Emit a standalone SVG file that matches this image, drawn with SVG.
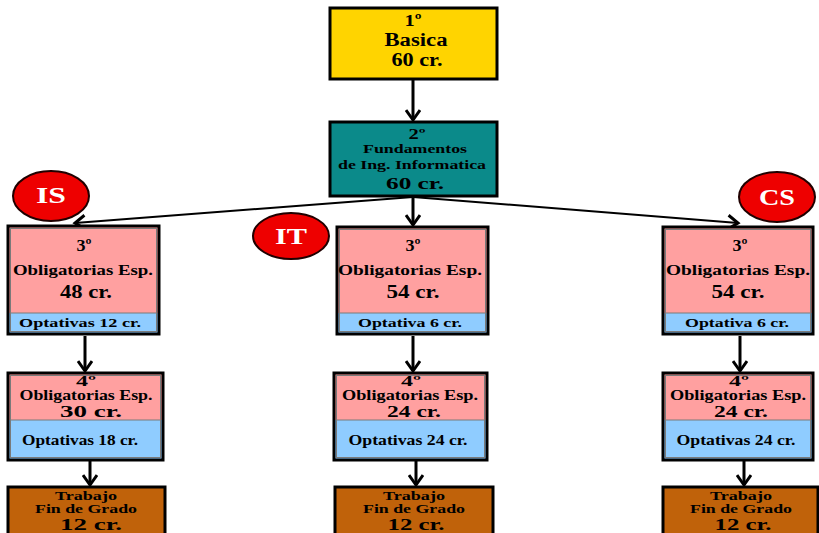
<svg xmlns="http://www.w3.org/2000/svg" width="819" height="533" viewBox="0 0 819 533">
<defs>
<style>
text{font-family:"Liberation Serif","Times New Roman",serif;font-weight:bold;fill:#000;text-anchor:middle}
.frame{fill:none;stroke:#000;stroke-width:3}
.inner{fill:none;stroke:#7a7a7a;stroke-width:1}
.pink{fill:#FFA0A0}
.blue{fill:#8FCCFF}
.brown{fill:#C0620A}
.yellow{fill:#FFD400}
.teal{fill:#0B8A8A}
.oval{fill:#EE0000;stroke:#200000;stroke-width:2}
.ovt{fill:#fff;font-size:23px}
.conn{stroke:#000;fill:none}
.v{stroke-width:3}
.d{stroke-width:2}
</style>
<marker id="ah" markerUnits="userSpaceOnUse" markerWidth="16" markerHeight="16" refX="12" refY="8" orient="auto" viewBox="0 0 16 16">
<path d="M2,1 L12,8 L2,15" fill="none" stroke="#000" stroke-width="3"/>
</marker>
</defs>
<rect width="819" height="533" fill="#fff"/>

<g id="connectors">
<line class="conn v" x1="413" y1="80" x2="413" y2="120" marker-end="url(#ah)"/>
<line class="conn v" x1="413" y1="197" x2="413" y2="225" marker-end="url(#ah)"/>
<line class="conn d" x1="413" y1="197" x2="75" y2="223" marker-end="url(#ah)"/>
<line class="conn d" x1="413" y1="197" x2="738" y2="223" marker-end="url(#ah)"/>
<line class="conn v" x1="85" y1="336" x2="85" y2="371" marker-end="url(#ah)"/>
<line class="conn v" x1="413" y1="336" x2="413" y2="371" marker-end="url(#ah)"/>
<line class="conn v" x1="740" y1="336" x2="740" y2="371" marker-end="url(#ah)"/>
<line class="conn v" x1="90" y1="461" x2="90" y2="485" marker-end="url(#ah)"/>
<line class="conn v" x1="416" y1="461" x2="416" y2="485" marker-end="url(#ah)"/>
<line class="conn v" x1="744" y1="461" x2="744" y2="485" marker-end="url(#ah)"/>
</g>

<g id="basica">
<rect class="yellow" x="330" y="8" width="167" height="71"/>
<rect class="frame" x="330" y="8" width="167" height="71"/>
<text x="413" y="26" font-size="17" textLength="17" lengthAdjust="spacingAndGlyphs">1º</text>
<text x="416" y="46" font-size="18" textLength="63" lengthAdjust="spacingAndGlyphs">Basica</text>
<text x="417" y="66" font-size="18" textLength="51" lengthAdjust="spacingAndGlyphs">60 cr.</text>
</g>

<g id="fundamentos">
<rect class="teal" x="330" y="122" width="167" height="74"/>
<rect class="frame" x="330" y="122" width="167" height="74"/>
<text x="417" y="139" font-size="15" textLength="17" lengthAdjust="spacingAndGlyphs">2º</text>
<text x="415" y="153" font-size="13.5" textLength="104" lengthAdjust="spacingAndGlyphs">Fundamentos</text>
<text x="412" y="169" font-size="13.5" textLength="148" lengthAdjust="spacingAndGlyphs">de Ing. Informatica</text>
<text x="415" y="189" font-size="17" textLength="58" lengthAdjust="spacingAndGlyphs">60 cr.</text>
</g>

<g id="is-label">
<ellipse class="oval" cx="51" cy="196" rx="38" ry="25"/>
<text class="ovt" x="51" y="203" textLength="30" lengthAdjust="spacingAndGlyphs">IS</text>
</g>
<g id="it-label">
<ellipse class="oval" cx="291" cy="236" rx="38" ry="23"/>
<text class="ovt" x="291" y="244" textLength="32" lengthAdjust="spacingAndGlyphs">IT</text>
</g>
<g id="cs-label">
<ellipse class="oval" cx="777" cy="197" rx="38" ry="25"/>
<text class="ovt" x="777" y="205" textLength="36" lengthAdjust="spacingAndGlyphs">CS</text>
</g>

<g id="is-3">
<rect class="pink" x="8" y="226" width="151" height="87"/>
<rect class="blue" x="8" y="313" width="151" height="21"/>
<rect class="inner" x="10.5" y="228.5" width="146" height="103"/>
<line x1="10" y1="313" x2="157" y2="313" stroke="#7a7a7a" stroke-width="1"/>
<rect class="frame" x="8" y="226" width="151" height="108"/>
<text x="84" y="251" font-size="17" textLength="15" lengthAdjust="spacingAndGlyphs">3º</text>
<text x="83" y="275" font-size="15.5" textLength="140" lengthAdjust="spacingAndGlyphs">Obligatorias Esp.</text>
<text x="86" y="298" font-size="18" textLength="52" lengthAdjust="spacingAndGlyphs">48 cr.</text>
<text x="80" y="327" font-size="13" textLength="122" lengthAdjust="spacingAndGlyphs">Optativas 12 cr.</text>
</g>

<g id="it-3">
<rect class="pink" x="337" y="227" width="151" height="86"/>
<rect class="blue" x="337" y="313" width="151" height="21"/>
<rect class="inner" x="339.5" y="229.5" width="146" height="102"/>
<line x1="339" y1="313" x2="486" y2="313" stroke="#7a7a7a" stroke-width="1"/>
<rect class="frame" x="337" y="227" width="151" height="107"/>
<text x="413" y="251" font-size="17" textLength="15" lengthAdjust="spacingAndGlyphs">3º</text>
<text x="410" y="275" font-size="15.5" textLength="144" lengthAdjust="spacingAndGlyphs">Obligatorias Esp.</text>
<text x="413" y="298" font-size="18" textLength="53" lengthAdjust="spacingAndGlyphs">54 cr.</text>
<text x="410" y="327" font-size="13" textLength="104" lengthAdjust="spacingAndGlyphs">Optativa 6 cr.</text>
</g>

<g id="cs-3">
<rect class="pink" x="663" y="227" width="150" height="86"/>
<rect class="blue" x="663" y="313" width="150" height="21"/>
<rect class="inner" x="665.5" y="229.5" width="145" height="102"/>
<line x1="665" y1="313" x2="811" y2="313" stroke="#7a7a7a" stroke-width="1"/>
<rect class="frame" x="663" y="227" width="150" height="107"/>
<text x="740" y="251" font-size="17" textLength="15" lengthAdjust="spacingAndGlyphs">3º</text>
<text x="738" y="275" font-size="15.5" textLength="144" lengthAdjust="spacingAndGlyphs">Obligatorias Esp.</text>
<text x="738" y="298" font-size="18" textLength="53" lengthAdjust="spacingAndGlyphs">54 cr.</text>
<text x="737" y="327" font-size="13" textLength="104" lengthAdjust="spacingAndGlyphs">Optativa 6 cr.</text>
</g>

<g id="is-4">
<rect class="pink" x="8" y="373" width="155" height="47"/>
<rect class="blue" x="8" y="420" width="155" height="40"/>
<rect class="inner" x="10.5" y="375.5" width="150" height="82"/>
<line x1="10" y1="420" x2="161" y2="420" stroke="#7a7a7a" stroke-width="1"/>
<rect class="frame" x="8" y="373" width="155" height="87"/>
<text x="86" y="386" font-size="14" textLength="20" lengthAdjust="spacingAndGlyphs">4º</text>
<text x="86" y="400" font-size="14" textLength="133" lengthAdjust="spacingAndGlyphs">Obligatorias Esp.</text>
<text x="91" y="417" font-size="16" textLength="62" lengthAdjust="spacingAndGlyphs">30 cr.</text>
<text x="80" y="445" font-size="14" textLength="116" lengthAdjust="spacingAndGlyphs">Optativas 18 cr.</text>
</g>

<g id="it-4">
<rect class="pink" x="334" y="373" width="153" height="47"/>
<rect class="blue" x="334" y="420" width="153" height="40"/>
<rect class="inner" x="336.5" y="375.5" width="148" height="82"/>
<line x1="336" y1="420" x2="485" y2="420" stroke="#7a7a7a" stroke-width="1"/>
<rect class="frame" x="334" y="373" width="153" height="87"/>
<text x="411" y="386" font-size="14" textLength="20" lengthAdjust="spacingAndGlyphs">4º</text>
<text x="410" y="400" font-size="14" textLength="136" lengthAdjust="spacingAndGlyphs">Obligatorias Esp.</text>
<text x="414" y="417" font-size="16" textLength="54" lengthAdjust="spacingAndGlyphs">24 cr.</text>
<text x="408" y="445" font-size="14" textLength="119" lengthAdjust="spacingAndGlyphs">Optativas 24 cr.</text>
</g>

<g id="cs-4">
<rect class="pink" x="663" y="373" width="150" height="47"/>
<rect class="blue" x="663" y="420" width="150" height="40"/>
<rect class="inner" x="665.5" y="375.5" width="145" height="82"/>
<line x1="665" y1="420" x2="811" y2="420" stroke="#7a7a7a" stroke-width="1"/>
<rect class="frame" x="663" y="373" width="150" height="87"/>
<text x="739" y="386" font-size="14" textLength="20" lengthAdjust="spacingAndGlyphs">4º</text>
<text x="738" y="400" font-size="14" textLength="136" lengthAdjust="spacingAndGlyphs">Obligatorias Esp.</text>
<text x="741" y="417" font-size="16" textLength="54" lengthAdjust="spacingAndGlyphs">24 cr.</text>
<text x="736" y="445" font-size="14" textLength="119" lengthAdjust="spacingAndGlyphs">Optativas 24 cr.</text>
</g>

<g id="is-tfg">
<rect class="brown" x="8" y="487" width="157" height="50"/>
<rect class="frame" x="8" y="487" width="157" height="50"/>
<text x="86" y="500" font-size="12.5" textLength="62" lengthAdjust="spacingAndGlyphs">Trabajo</text>
<text x="86" y="513" font-size="12.5" textLength="102" lengthAdjust="spacingAndGlyphs">Fin de Grado</text>
<text x="91" y="530" font-size="17" textLength="62" lengthAdjust="spacingAndGlyphs">12 cr.</text>
</g>

<g id="it-tfg">
<rect class="brown" x="335" y="487" width="158" height="50"/>
<rect class="frame" x="335" y="487" width="158" height="50"/>
<text x="414" y="500" font-size="12.5" textLength="62" lengthAdjust="spacingAndGlyphs">Trabajo</text>
<text x="414" y="513" font-size="12.5" textLength="102" lengthAdjust="spacingAndGlyphs">Fin de Grado</text>
<text x="416" y="530" font-size="17" textLength="57" lengthAdjust="spacingAndGlyphs">12 cr.</text>
</g>

<g id="cs-tfg">
<rect class="brown" x="663" y="487" width="155" height="50"/>
<rect class="frame" x="663" y="487" width="155" height="50"/>
<text x="741" y="500" font-size="12.5" textLength="62" lengthAdjust="spacingAndGlyphs">Trabajo</text>
<text x="741" y="513" font-size="12.5" textLength="102" lengthAdjust="spacingAndGlyphs">Fin de Grado</text>
<text x="743" y="530" font-size="17" textLength="57" lengthAdjust="spacingAndGlyphs">12 cr.</text>
</g>
</svg>
